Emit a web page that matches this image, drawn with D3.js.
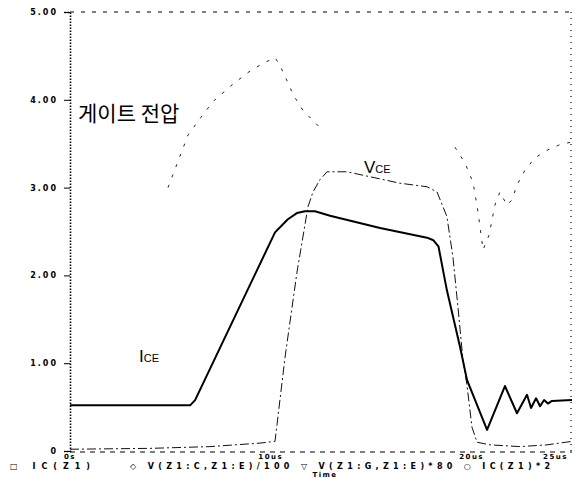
<!DOCTYPE html>
<html>
<head>
<meta charset="utf-8">
<script src="https://cdn.jsdelivr.net/npm/d3@7"></script>
<style>
  body { margin: 0; background: #fff; }
  svg { display: block; }
</style>
</head>
<body>
<svg id="chart" width="574" height="478"></svg>
<script>
// time in us, value in divisions
const yTicks = [0, 1, 2, 3, 4, 5];
const yTickLabels = ["0", "1.00", "2.00", "3.00", "4.00", "5.00"];
const xTicks = [0, 10, 20, 25];
const xTickLabels = ["0s", "10us", "20us", "25us"];

const iceData = [
  [0, 0.52], [5.98, 0.52], [6.23, 0.58], [10.21, 2.49], [10.85, 2.64],
  [11.3, 2.71], [11.7, 2.73], [12.2, 2.73], [12.95, 2.68], [15.44, 2.54],
  [17.78, 2.43], [18.1, 2.40], [18.35, 2.33],
  [18.77, 1.83], [19.42, 1.19], [19.77, 0.81], [20.77, 0.24], [21.66, 0.74],
  [22.26, 0.43], [22.76, 0.64], [22.96, 0.49], [23.21, 0.60], [23.41, 0.51],
  [23.61, 0.58], [23.80, 0.54], [24.00, 0.57], [25, 0.58]
];

const vceData = [
  [0, 0.02], [3.98, 0.03], [6.97, 0.05], [9.46, 0.09], [10.21, 0.11],
  [10.71, 1.07], [11.30, 2.03], [11.85, 2.78], [12.10, 2.95], [12.45, 3.09],
  [12.80, 3.18], [13.80, 3.18], [16.43, 3.05], [17.78, 3.01], [18.28, 2.95],
  [18.77, 2.67], [19.07, 2.21], [19.32, 1.64], [19.57, 1.04], [19.77, 0.75],
  [20.02, 0.27], [20.27, 0.10], [20.92, 0.07], [22.41, 0.05], [23.75, 0.07],
  [25, 0.11]
];

const gateData = [
  [4.88, 3.00], [5.88, 3.60], [6.62, 3.83], [7.12, 3.98], [8.07, 4.17],
  [8.86, 4.31], [9.56, 4.41], [10.21, 4.48], [10.46, 4.39], [10.86, 4.19],
  [11.11, 4.06], [11.60, 3.88], [12.55, 3.66], [12.9, null],
  [19.17, 3.46], [19.67, 3.28], [20.07, 3.06], [20.32, 2.72], [20.57, 2.29],
  [20.87, 2.46], [21.16, 2.80], [21.41, 2.95], [21.76, 2.80], [22.01, 2.86],
  [22.26, 3.03], [22.66, 3.20], [23.16, 3.34], [23.80, 3.43], [24.40, 3.49],
  [25, 3.52]
];

const legendLeft = "\u25a1 IC(Z1)";
const legendRight = "\u25c7 V(Z1:C,Z1:E)/100    \u25bd V(Z1:G,Z1:E)*80    \u25cb IC(Z1)*2";

const svg = d3.select("#chart"),
  margins = {top: 12, right: 2, bottom: 27, left: 70},
  width = 574 - margins.left - margins.right,
  height = 478 - margins.top - margins.bottom;

const xScale = d3.scaleLinear().domain([0, 25]).range([0, width]);
const yScale = d3.scaleLinear().domain([0, 5]).range([height, 0]);

const g = svg.append("g")
  .attr("transform", "translate(" + margins.left + "," + margins.top + ")");

// frame
g.append("line")
  .attr("x1", 0).attr("x2", width).attr("y1", 0).attr("y2", 0)
  .attr("stroke", "#000").attr("stroke-width", 1.2)
  .attr("stroke-dasharray", "4,7");
g.append("line")
  .attr("x1", 0).attr("x2", width).attr("y1", height + 1).attr("y2", height + 1)
  .attr("stroke", "#000").attr("stroke-width", 1.2)
  .attr("stroke-dasharray", "5,5");
g.append("line")
  .attr("x1", width - 1).attr("x2", width - 1).attr("y1", 0).attr("y2", height)
  .attr("stroke", "#000").attr("stroke-width", 1.2)
  .attr("stroke-dasharray", "1,5");

// y axis
const yAxis = g.append("g")
  .call(d3.axisLeft(yScale).tickValues(yTicks).tickSize(6)
    .tickFormat((d, i) => yTickLabels[i]));
yAxis.select(".domain")
  .attr("stroke-width", 1.6)
  .attr("stroke-dasharray", "1.5,1.5");
yAxis.selectAll("text")
  .attr("x", -12)
  .attr("font-family", "DejaVu Sans")
  .attr("font-weight", "bold")
  .attr("font-size", 8)
  .attr("letter-spacing", 2);

// x axis labels
const xAxis = g.append("g")
  .attr("transform", "translate(0," + height + ")");
xAxis.selectAll("text")
  .data(xTicks)
  .enter()
  .append("text")
    .attr("x", (d, i) => i === xTicks.length - 1 ? xScale(d) - 4 : xScale(d))
    .attr("y", 8)
    .attr("text-anchor", (d, i) => i === xTicks.length - 1 ? "end" : "middle")
    .attr("font-family", "DejaVu Sans")
    .attr("font-weight", "bold")
    .attr("font-size", 7)
    .attr("letter-spacing", 1.5)
    .text((d, i) => xTickLabels[i]);

svg.append("text")
  .attr("x", 10).attr("y", 469)
  .attr("font-family", "DejaVu Sans").attr("font-weight", "bold").attr("font-size", 8)
  .attr("textLength", 80).attr("lengthAdjust", "spacing")
  .text(legendLeft);
svg.append("text")
  .attr("x", 130).attr("y", 469)
  .attr("font-family", "DejaVu Sans").attr("font-weight", "bold").attr("font-size", 8)
  .attr("textLength", 420).attr("lengthAdjust", "spacing")
  .text(legendRight);
svg.append("text")
  .attr("x", 325).attr("y", 477)
  .attr("text-anchor", "middle")
  .attr("font-family", "DejaVu Sans").attr("font-weight", "bold").attr("font-size", 7)
  .attr("letter-spacing", 1.5)
  .text("Time");

// curves
const line = d3.line()
  .defined(d => d[1] !== null)
  .x(d => xScale(d[0]))
  .y(d => yScale(d[1]));

g.append("path")
  .datum(gateData)
  .attr("fill", "none")
  .attr("stroke", "#222")
  .attr("stroke-width", 1)
  .attr("stroke-dasharray", "3,8")
  .attr("d", line);

g.append("path")
  .datum(vceData)
  .attr("fill", "none")
  .attr("stroke", "#111")
  .attr("stroke-width", 1)
  .attr("stroke-dasharray", "9,3,2,3")
  .attr("d", line);

g.append("path")
  .datum(iceData)
  .attr("fill", "none")
  .attr("stroke", "#000")
  .attr("stroke-width", 2)
  .attr("stroke-linejoin", "round")
  .attr("d", line);

// annotations
svg.append("text")
  .attr("x", 78).attr("y", 121)
  .attr("font-family", "Noto Sans CJK KR")
  .attr("font-size", 21)
  .attr("fill", "#000")
  .text("게이트 전압");

const vceLabel = svg.append("text")
  .attr("x", 364).attr("y", 173)
  .attr("font-family", "Liberation Sans")
  .attr("fill", "#000");
vceLabel.append("tspan").attr("font-size", 17).text("V");
vceLabel.append("tspan").attr("font-size", 11).text("CE");

const iceLabel = svg.append("text")
  .attr("x", 139).attr("y", 362)
  .attr("font-family", "Liberation Sans")
  .attr("fill", "#000");
iceLabel.append("tspan").attr("font-size", 17).text("I");
iceLabel.append("tspan").attr("font-size", 11).text("CE");
</script>
</body>
</html>
